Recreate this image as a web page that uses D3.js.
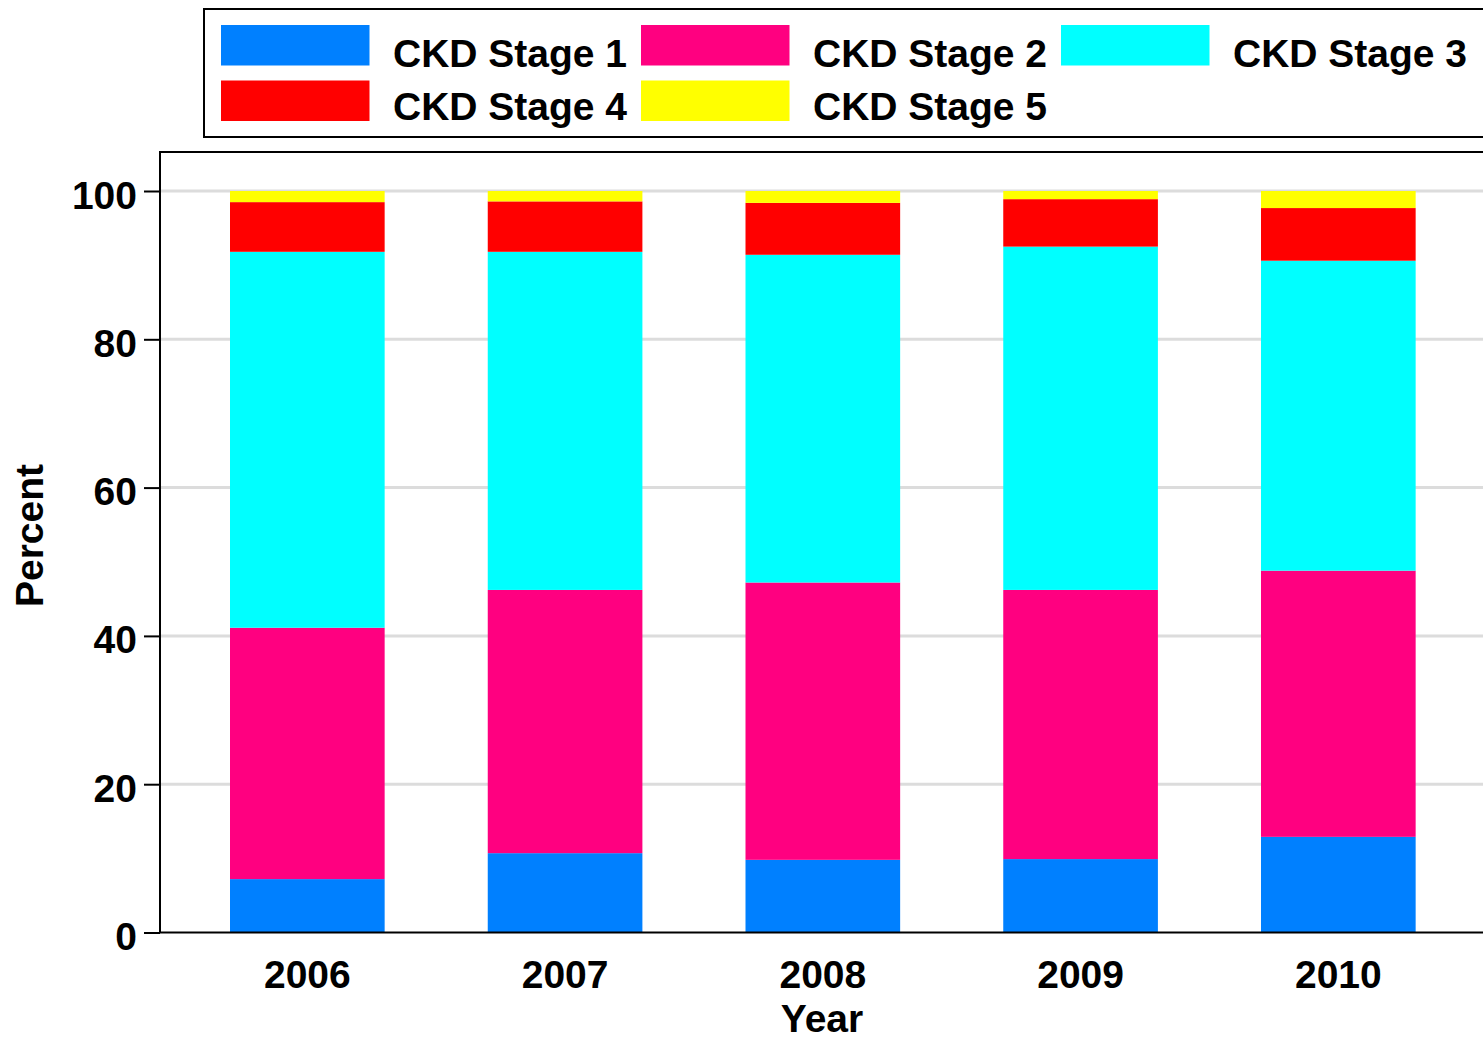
<!DOCTYPE html>
<html>
<head>
<meta charset="utf-8">
<script src="https://cdn.jsdelivr.net/npm/d3@7"></script>
<style>
  html, body { margin: 0; padding: 0; background: #fff; }
  svg { display: block; }
  text { font-family: "Liberation Sans", Arial, sans-serif; font-weight: bold; fill: #000; }
</style>
</head>
<body>
<svg id="chart" width="1483" height="1041"></svg>
<script>
const years = ["2006", "2007", "2008", "2009", "2010"];
const seriesNames = ["CKD Stage 1", "CKD Stage 2", "CKD Stage 3", "CKD Stage 4", "CKD Stage 5"];
const seriesColors = ["#0080FF", "#FF0080", "#00FFFF", "#FF0000", "#FFFF00"];
const stage1 = [7.2, 10.7, 9.8, 9.9, 12.9];
const stage2 = [33.9, 35.5, 37.4, 36.3, 35.9];
const stage3 = [50.7, 45.6, 44.2, 46.3, 41.8];
const stage4 = [6.7, 6.8, 7.0, 6.4, 7.1];
const stage5 = [1.5, 1.4, 1.6, 1.1, 2.3];
const yTicks = [0, 20, 40, 60, 80, 100];

const seriesValues = [stage1, stage2, stage3, stage4, stage5];
const rows = years.map((yr, i) => {
  const r = { year: yr };
  seriesNames.forEach((s, k) => r[s] = seriesValues[k][i]);
  return r;
});
const stacked = d3.stack().keys(seriesNames)(rows);

const svg = d3.select("#chart");
const plotLeft = 160, plotTop = 152, plotRight = 1495, plotBottom = 932.5;

const x = d3.scaleBand().domain(years).range([178.45, 1467.2]).paddingInner(0.4).paddingOuter(0.2);
const y = d3.scaleLinear().domain([0, 100]).range([plotBottom, 191]);

// gridlines
svg.append("g").selectAll("line").data(yTicks.filter(t => t > 0)).join("line")
  .attr("x1", plotLeft).attr("x2", plotRight)
  .attr("y1", d => y(d)).attr("y2", d => y(d))
  .attr("stroke", "#dcdcdc").attr("stroke-width", 3);

// bars
svg.append("g").selectAll("g").data(stacked).join("g")
  .attr("fill", (d, i) => seriesColors[i])
  .selectAll("rect").data(d => d).join("rect")
  .attr("x", d => x(d.data.year))
  .attr("width", x.bandwidth())
  .attr("y", d => y(d[1]))
  .attr("height", d => y(d[0]) - y(d[1]));

// plot frame
svg.append("rect")
  .attr("x", plotLeft).attr("y", plotTop)
  .attr("width", plotRight - plotLeft).attr("height", plotBottom - plotTop)
  .attr("fill", "none").attr("stroke", "#000").attr("stroke-width", 2);

// y axis
const yAxis = d3.axisLeft(y).tickValues(yTicks).tickSize(16).tickPadding(7).tickFormat(d3.format("d"));
const gy = svg.append("g").attr("transform", `translate(${plotLeft},0)`).call(yAxis);
gy.select(".domain").remove();
gy.selectAll(".tick line").attr("stroke", "#000").attr("stroke-width", 2);
gy.selectAll(".tick text").attr("font-size", 39).attr("font-family", null)
  .attr("dy", null).attr("y", 17).style("font-family", "'Liberation Sans', Arial, sans-serif").style("font-weight", "bold");

// x axis
const xAxis = d3.axisBottom(x).tickSize(0).tickPadding(0);
const gx = svg.append("g").attr("transform", `translate(0,${plotBottom})`).call(xAxis);
gx.select(".domain").remove();
gx.selectAll(".tick text").attr("font-size", 39).attr("font-family", null)
  .attr("dy", null).attr("y", 55).style("font-family", "'Liberation Sans', Arial, sans-serif").style("font-weight", "bold");

// axis titles
svg.append("text").attr("x", (plotLeft + 1490) / 2 - 3).attr("y", 1032)
  .attr("text-anchor", "middle").attr("font-size", 39).text("Year");
svg.append("text").attr("transform", "translate(43,535.5) rotate(-90)")
  .attr("text-anchor", "middle").attr("font-size", 39).text("Percent");

// legend
svg.append("rect").attr("x", 204).attr("y", 9).attr("width", 1400).attr("height", 128)
  .attr("fill", "#fff").attr("stroke", "#000").attr("stroke-width", 2);
const lg = svg.append("g").selectAll("g").data(seriesNames).join("g")
  .attr("transform", (d, i) => `translate(${221 + (i % 3) * 420},${25 + Math.floor(i / 3) * 55.5})`);
lg.append("rect").attr("width", 148.5).attr("height", 40.5).attr("fill", (d, i) => seriesColors[i]);
lg.append("text").attr("x", 172).attr("y", (d, i) => i < 3 ? 42 : 39.5).attr("font-size", 39).text(d => d);
</script>
</body>
</html>
